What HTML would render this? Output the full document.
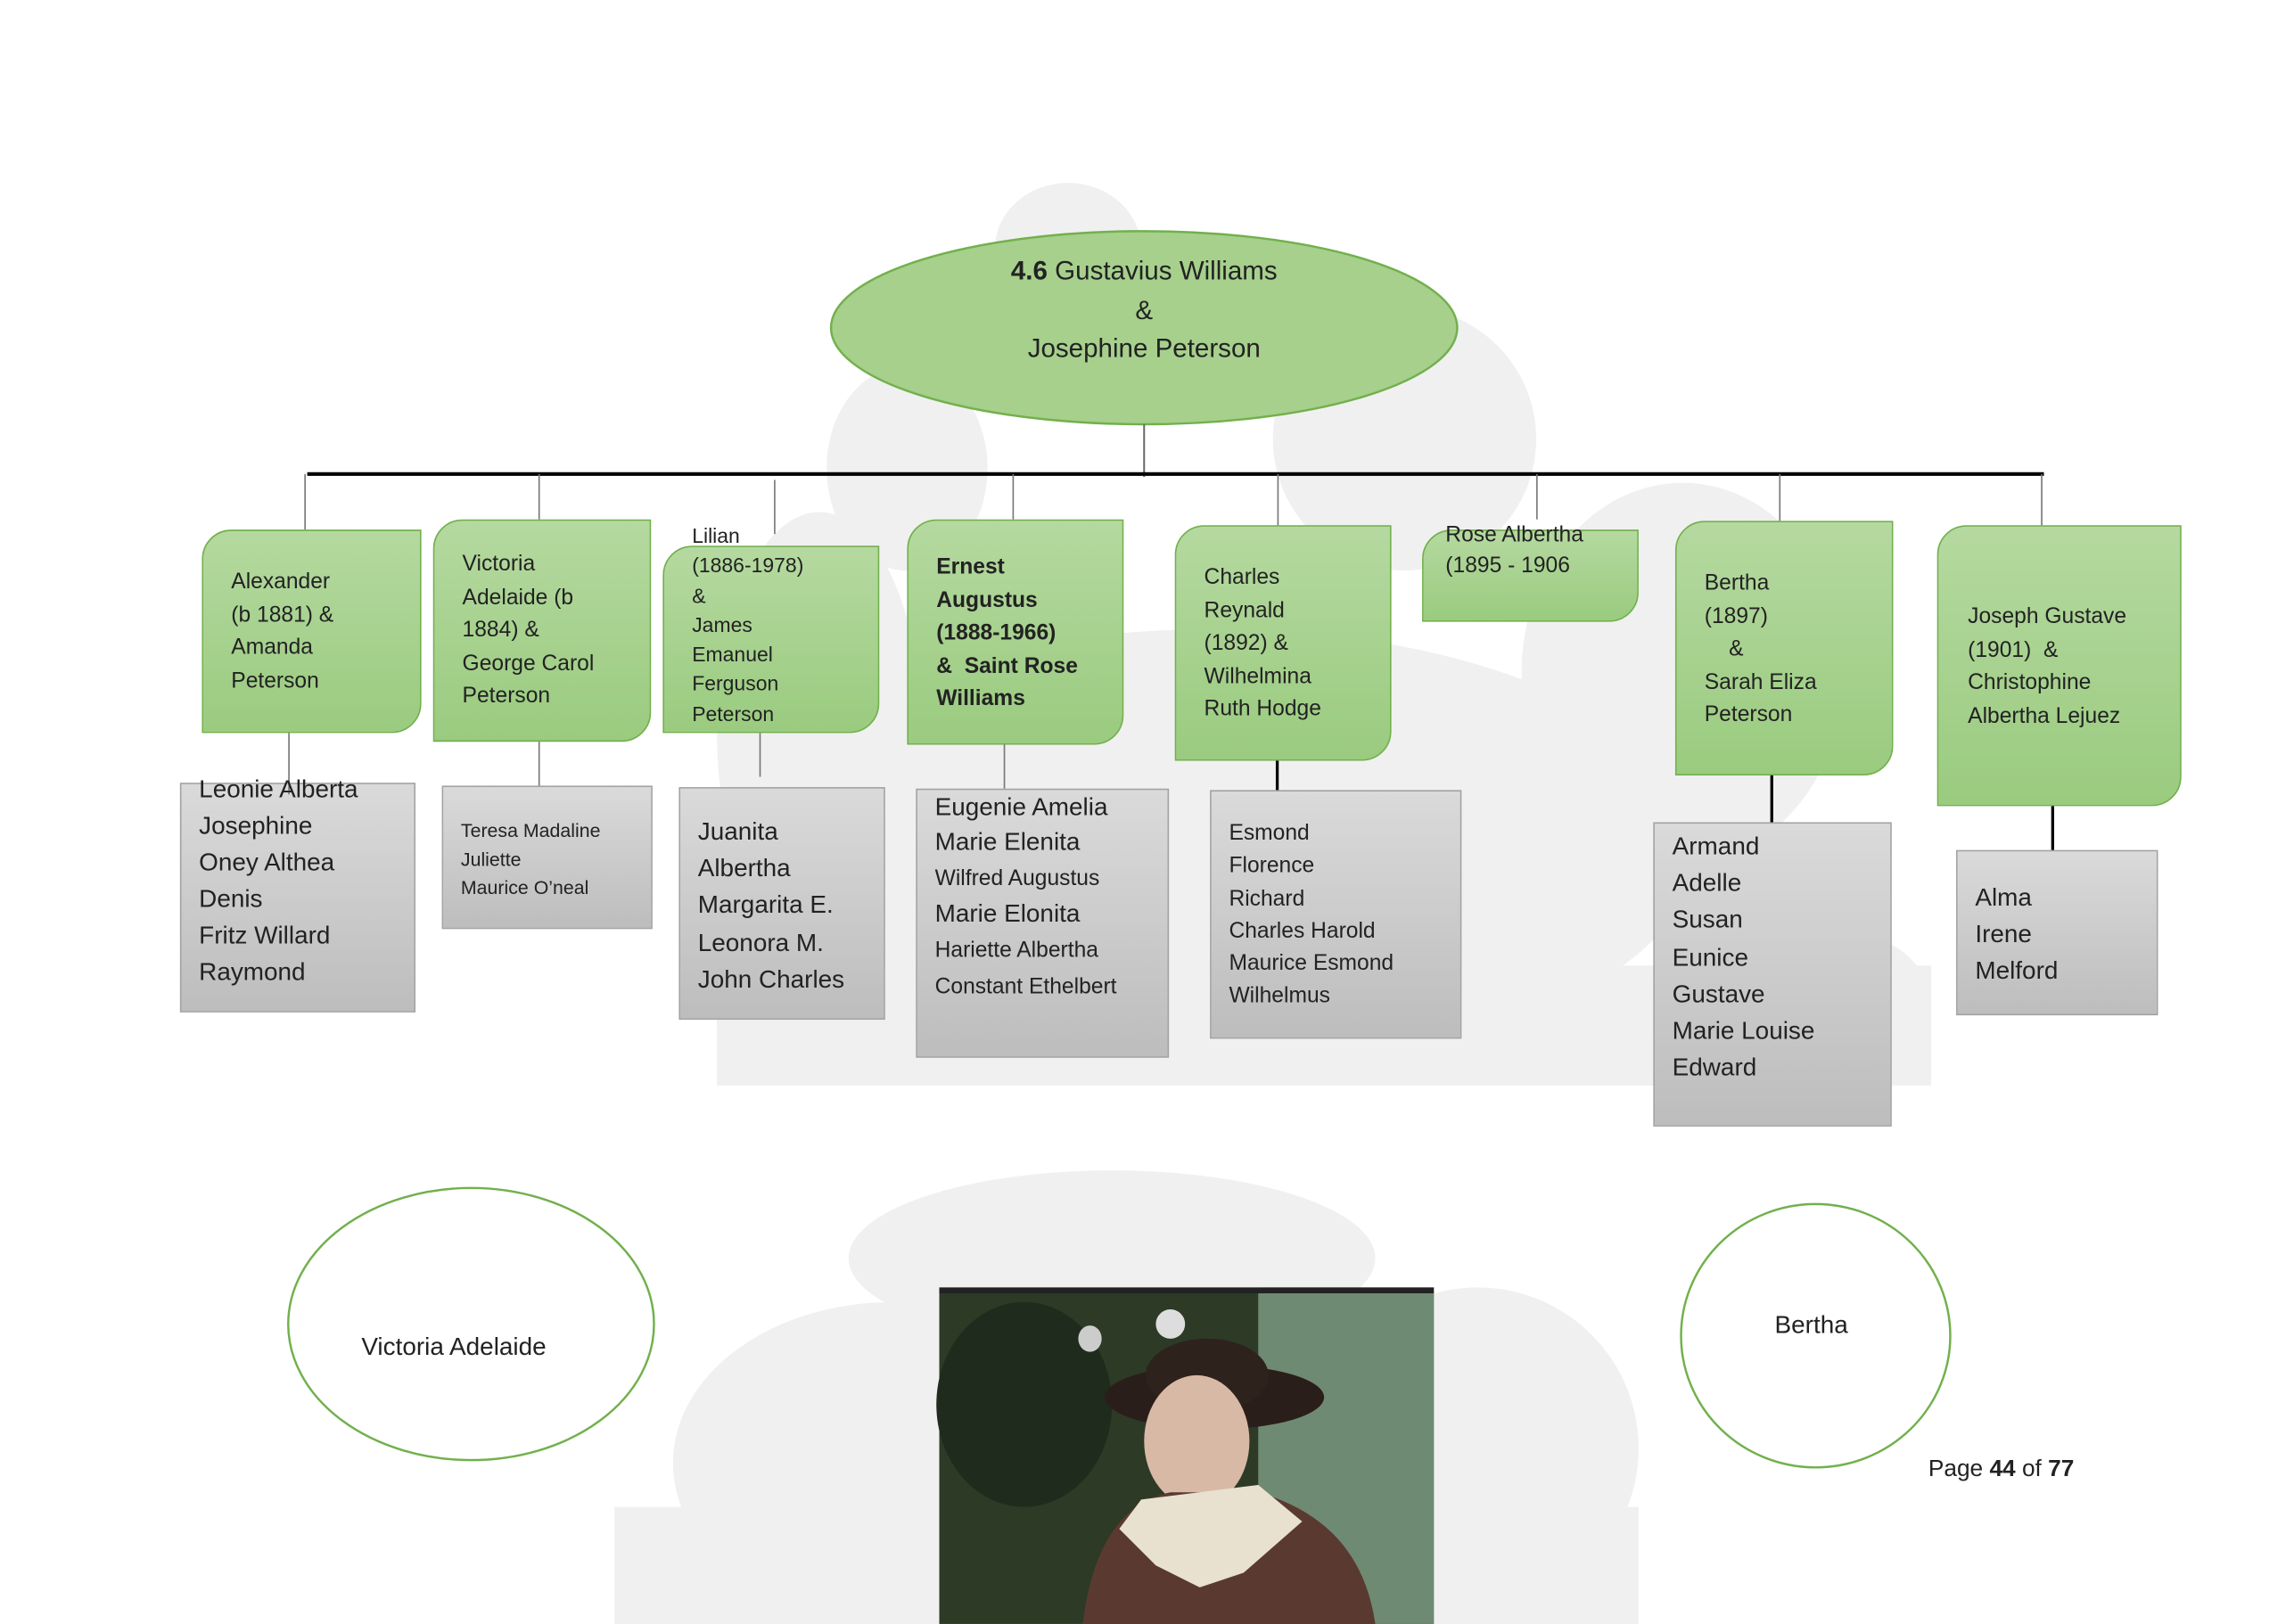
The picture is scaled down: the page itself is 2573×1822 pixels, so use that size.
<!DOCTYPE html>
<html><head><meta charset="utf-8"><style>
html,body{margin:0;padding:0;background:#fff;overflow:hidden}
#page{position:relative;width:2573px;height:1822px;overflow:hidden;background:#fff}
#s{position:absolute;left:0;top:0;width:1568px;height:1110px;transform-origin:0 0;transform:scale(1.641,1.6414);font-family:"Liberation Sans",sans-serif;color:#222}
.g{position:absolute;background:linear-gradient(#b5d9a0,#9acb7f);border:1.5px solid #72b04d;border-radius:20px 0 20px 0;box-sizing:border-box}
.r{position:absolute;background:linear-gradient(#dadada,#bdbdbd);border:1.5px solid #a3a3a3;box-sizing:border-box}
.t{position:absolute;white-space:nowrap;font-size:15px;line-height:22.5px}
.v{position:absolute;background:#777;width:1.2px}
.vb{position:absolute;background:#000;width:2px}
</style></head><body><div id="page"><div id="s">
<svg style="position:absolute;left:0;top:0" width="1568" height="1110">
<g fill="#f0f0f0">
<ellipse cx="730" cy="170" rx="50" ry="45"/>
<ellipse cx="620" cy="320" rx="55" ry="70"/>
<ellipse cx="960" cy="300" rx="90" ry="90"/>
<ellipse cx="560" cy="500" rx="70" ry="150"/>
<ellipse cx="1150" cy="460" rx="110" ry="130"/>
<ellipse cx="830" cy="580" rx="330" ry="150"/>
<ellipse cx="1270" cy="690" rx="50" ry="50"/>
<rect x="490" y="660" width="830" height="82"/>
<ellipse cx="760" cy="860" rx="180" ry="60"/>
<ellipse cx="610" cy="1000" rx="150" ry="110"/>
<ellipse cx="1010" cy="990" rx="110" ry="110"/>
<rect x="420" y="1030" width="700" height="80"/>
</g>
<ellipse cx="782" cy="224" rx="214" ry="66" fill="#a6d08c" stroke="#72b04d" stroke-width="1.5"/>
<line x1="782" y1="290" x2="782" y2="326" stroke="#666" stroke-width="1.2"/>
<line x1="210" y1="324" x2="1397" y2="324" stroke="#000" stroke-width="2.5"/>
<ellipse cx="322" cy="905" rx="125" ry="93" fill="#fff" stroke="#72b04d" stroke-width="1.5"/>
<ellipse cx="1241" cy="913" rx="92" ry="90" fill="#fff" stroke="#72b04d" stroke-width="1.5"/>
<g>
<rect x="642" y="880" width="338" height="230" fill="#2c3a26"/>
<rect x="860" y="880" width="120" height="230" fill="#6f8a72"/>
<rect x="642" y="880" width="338" height="4" fill="#222"/>
<ellipse cx="700" cy="960" rx="60" ry="70" fill="#1f2b1c"/>
<ellipse cx="800" cy="905" rx="10" ry="10" fill="#ddd"/>
<ellipse cx="745" cy="915" rx="8" ry="9" fill="#ccc"/>
<ellipse cx="830" cy="955" rx="75" ry="22" fill="#2a1e1a"/>
<ellipse cx="825" cy="940" rx="42" ry="25" fill="#2e221d"/>
<ellipse cx="818" cy="985" rx="36" ry="45" fill="#d8b9a5"/>
<path d="M740 1110 Q750 1030 800 1020 L860 1020 Q930 1040 940 1110 Z" fill="#5a3a30"/>
<path d="M780 1025 L860 1015 L890 1040 L850 1075 L820 1085 L790 1070 L765 1045 Z" fill="#e9e1d0"/>
</g>
</svg>
<div class="t" style="left:568px;width:428px;text-align:center;top:172px;font-size:18px;line-height:26.5px"><b>4.6</b> Gustavius Williams<br>&amp;<br>Josephine Peterson</div>

<div class="v" style="left:208px;top:324px;height:38px"></div>
<div class="v" style="left:368px;top:324px;height:31px"></div>
<div class="v" style="left:529px;top:328px;height:37px"></div>
<div class="v" style="left:692px;top:324px;height:31px"></div>
<div class="v" style="left:873px;top:324px;height:35px"></div>
<div class="v" style="left:1050px;top:324px;height:31px"></div>
<div class="v" style="left:1216px;top:324px;height:32px"></div>
<div class="v" style="left:1395px;top:324px;height:35px"></div>

<div class="g" style="left:138px;top:362px;width:150px;height:139px"></div>
<div class="t" style="left:158px;top:387px">Alexander<br>(b 1881) &amp;<br>Amanda<br>Peterson</div>
<div class="g" style="left:296px;top:355px;width:149px;height:152px"></div>
<div class="t" style="left:316px;top:375px">Victoria<br>Adelaide (b<br>1884) &amp;<br>George Carol<br>Peterson</div>
<div class="g" style="left:453px;top:373px;width:148px;height:128px"></div>
<div class="t" style="left:473px;top:356px;font-size:14px;line-height:20.3px">Lilian<br>(1886-1978)<br>&amp;<br>James<br>Emanuel<br>Ferguson<br>Peterson</div>
<div class="g" style="left:620px;top:355px;width:148px;height:154px"></div>
<div class="t" style="left:640px;top:377px;font-weight:bold">Ernest<br>Augustus<br>(1888-1966)<br>&amp;&nbsp; Saint Rose<br>Williams</div>
<div class="g" style="left:803px;top:359px;width:148px;height:161px"></div>
<div class="t" style="left:823px;top:384px">Charles<br>Reynald<br>(1892) &amp;<br>Wilhelmina<br>Ruth Hodge</div>
<div class="g" style="left:972px;top:362px;width:148px;height:63px"></div>
<div class="t" style="left:988px;top:355px;line-height:21px">Rose Albertha<br>(1895 - 1906</div>
<div class="g" style="left:1145px;top:356px;width:149px;height:174px"></div>
<div class="t" style="left:1165px;top:388px">Bertha<br>(1897)<br>&nbsp;&nbsp;&nbsp;&nbsp;&amp;<br>Sarah Eliza<br>Peterson</div>
<div class="g" style="left:1324px;top:359px;width:167px;height:192px"></div>
<div class="t" style="left:1345px;top:411px">Joseph Gustave<br>(1901)&nbsp; &amp;<br>Christophine<br>Albertha Lejuez</div>

<div class="r" style="left:123px;top:535px;width:161px;height:157px"></div>
<div class="v" style="left:197px;top:501px;height:42px"></div>
<div class="t" style="left:136px;top:527px;font-size:17px;line-height:25px">Leonie Alberta<br>Josephine<br>Oney Althea<br>Denis<br>Fritz Willard<br>Raymond</div>
<div class="r" style="left:302px;top:537px;width:144px;height:98px"></div>
<div class="v" style="left:368px;top:507px;height:30px"></div>
<div class="t" style="left:315px;top:558px;font-size:13px;line-height:19.5px">Teresa Madaline<br>Juliette<br>Maurice O’neal</div>
<div class="r" style="left:464px;top:538px;width:141px;height:159px"></div>
<div class="v" style="left:519px;top:501px;height:30px"></div>
<div class="t" style="left:477px;top:556px;font-size:17px;line-height:25.2px">Juanita<br>Albertha<br>Margarita E.<br>Leonora M.<br>John Charles</div>
<div class="r" style="left:626px;top:539px;width:173px;height:184px"></div>
<div class="v" style="left:686px;top:509px;height:30px"></div>
<div class="t" style="left:639px;top:540px;font-size:17px;line-height:24px">Eugenie Amelia<br>Marie Elenita<br><span style="font-size:15px">Wilfred Augustus</span><br>Marie Elonita<br><span style="font-size:15px">Hariette Albertha</span><br><span style="font-size:15px">Constant Ethelbert</span></div>
<div class="r" style="left:827px;top:540px;width:172px;height:170px"></div>
<div class="vb" style="left:872px;top:520px;height:20px"></div>
<div class="t" style="left:840px;top:559px;line-height:22.3px">Esmond<br>Florence<br>Richard<br>Charles Harold<br>Maurice Esmond<br>Wilhelmus</div>
<div class="r" style="left:1130px;top:562px;width:163px;height:208px"></div>
<div class="vb" style="left:1210px;top:530px;height:32px"></div>
<div class="t" style="left:1143px;top:566px;font-size:17px;line-height:25.2px">Armand<br>Adelle<br>Susan<br>Eunice<br>Gustave<br>Marie Louise<br>Edward</div>
<div class="r" style="left:1337px;top:581px;width:138px;height:113px"></div>
<div class="vb" style="left:1402px;top:551px;height:30px"></div>
<div class="t" style="left:1350px;top:601px;font-size:17px;line-height:25px">Alma<br>Irene<br>Melford</div>

<div class="t" style="left:247px;top:910px;font-size:17px">Victoria Adelaide</div>
<div class="t" style="left:1213px;top:895px;font-size:17px">Bertha</div>
<div class="t" style="left:1318px;top:994px;font-size:16px">Page <b>44</b> of <b>77</b></div>
</div></div></body></html>
